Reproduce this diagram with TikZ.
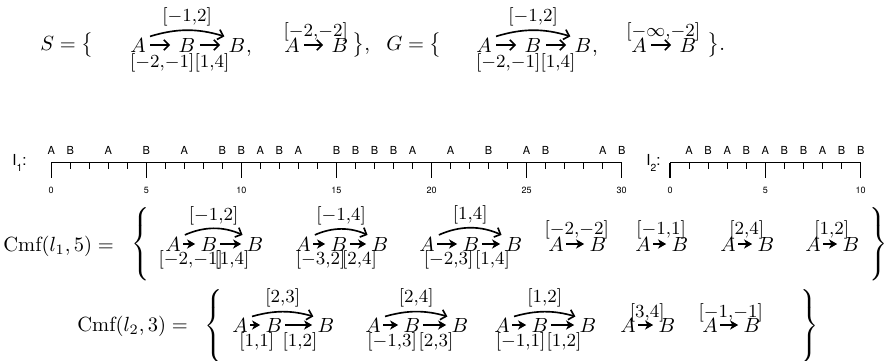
\documentclass[tikz,border=0pt]{standalone}
\usepackage{fontspec}
\newfontfamily\hv{TeX Gyre Heros}
\usetikzlibrary{arrows.meta}
\tikzset{
  lt/.style={inner sep=0pt},
  lbl/.style={font=\small, inner sep=1pt, execute at begin node={\thinmuskip=0mu\relax}},
  txt/.style={anchor=base west, inner sep=0pt},
  brc/.style={inner sep=0pt},
  bigarr/.style={thick, -{Straight Barb[length=2.5pt,width=5pt]}, shorten <=2pt, shorten >=4pt},
  smarr/.style={line width=0.7pt, -{Stealth[length=4pt,width=4.5pt,inset=1.2pt]}, shorten <=1pt, shorten >=2.5pt},
  bow/.style={thick, -{Straight Barb[length=2.5pt,width=5pt]}, shorten <=2pt, shorten >=2pt},
  evt/.style={font={\hv\fontsize{5.4}{6}\selectfont}, inner sep=0pt},
  tck/.style={font={\hv\fontsize{4.4}{5}\selectfont}, inner sep=0pt},
  axis/.style={line width=0.6pt},
}
\begin{document}
\begin{tikzpicture}[x=0.4878pt, y=-0.4878pt]
  \useasboundingbox (0,0) rectangle (885,360);
  % S 与 G
  \node[txt] (sopen) at (40,50) {$S=\bigl\{$};
  \foreach \n/\xa/\xb/\xc/\t/\ba/\bb in {s1/138/187/237/{[-1,2]}/{[-2,-1]}/{[1,4]}, g1/484/533/583/{[-1,2]}/{[-2,-1]}/{[1,4]}}{
    \node[lt] (\n-a) at (\xa,45) {$A$};
    \node[lt] (\n-b) at (\xb,45) {$B$};
    \node[lt] (\n-c) at (\xc,45) {$B$};
    \node[txt] (\n-k) at (\n-c.base east) {,};
    \draw[bigarr] (\n-a) -- node[lbl,below=2.8pt] (\n-l) {$\ba$} (\n-b);
    \draw[bigarr] (\n-b) -- node[lbl,below=2.8pt] (\n-r) {$\bb$} (\n-c);
    \draw[bow] (\n-a.north east) to[bend left=17] node[lbl,above=0.6pt] (\n-t) {$\t$} (\n-c.north west);
  }
  \foreach \n/\xa/\xb/\t in {s2/292/340/{[-2,-2]}, g2/639/688/{[-\infty,-2]}}{
    \node[lt] (\n-a) at (\xa,45) {$A$};
    \node[lt] (\n-b) at (\xb,45) {$B$};
    \draw[bigarr] (\n-a) -- node[lbl,above=0.4pt] (\n-t) {$\t$} (\n-b);
  }
  \node[txt] (sclose) at (352,50) {$\bigr\}$,};
  \node[txt] (gopen) at (386,50) {$G=\bigl\{$};
  \node[txt] (gclose) at (707,50) {$\bigr\}$.};
  % 序列 l1
  \node[anchor=west, inner sep=0pt] (i1) at (12,163) {\hv\fontsize{7.4}{8}\selectfont I\raisebox{-3pt}{\fontsize{5}{5}\selectfont 1}:};
  \draw[axis] (51.2,162.5) -- (621.7,162.5);
  \foreach \i in {0,...,30} \draw[line width=0.4pt] ({51.2+19.017*\i},162.5) -- ++(0,6.5);
  \foreach \i in {0,5,...,30}{
    \draw[axis] ({51.2+19.017*\i},162.5) -- ++(0,15.2);
    \node[tck] (n1-\i) at ({51.2+19.017*\i},190) {\i};
  }
  \foreach \i/\c in {0/A,1/B,3/A,5/B,7/A,9/B,10/B,11/A,12/B,13/A,15/B,16/B,17/B,18/B,19/A,21/A,23/B,25/A,26/B,29/A,30/B}
    \node[evt] (e1-\i) at ({51.2+19.017*\i},150) {\c};
  % 序列 l2
  \node[anchor=west, inner sep=0pt] (i2) at (646,163) {\hv\fontsize{7.4}{8}\selectfont I\raisebox{-3pt}{\fontsize{5}{5}\selectfont 2}:};
  \draw[axis] (670,162.5) -- (860.7,162.5);
  \foreach \i in {0,...,10} \draw[line width=0.4pt] ({670+19.07*\i},162.5) -- ++(0,6.5);
  \foreach \i in {0,5,10}{
    \draw[axis] ({670+19.07*\i},162.5) -- ++(0,15.2);
    \node[tck] (n2-\i) at ({670+19.07*\i},190) {\i};
  }
  \foreach \i/\c in {1/A,2/B,3/A,4/B,5/A,6/B,7/B,8/A,9/B,10/B}
    \node[evt] (e2-\i) at ({670+19.07*\i},150) {\c};
  % Cmf(l1,5)
  \node[txt] (cmf1) at (3,251) {$\mathrm{Cmf}(l_1,5)=$};
  \node[brc] (lb1) at (142,244) {$\delimitershortfall=0pt\delimiterfactor=1000\left\{\vrule height 20pt depth 15pt width 0pt\right.$};
  \node[brc] (rb1) at (877,244) {$\delimitershortfall=0pt\delimiterfactor=1000\left.\vrule height 20pt depth 15pt width 0pt\right\}$};
  \foreach \n/\xa/\xb/\xc/\t/\ba/\bb in {c1/173/209/255/{[-1,2]}/{[-2,-1]}/{[1,4]}, c2/303/339/380/{[-1,4]}/{[-3,2]}/{[2,4]}, c3/427/471/514/{[1,4]}/{[-2,3]}/{[1,4]}}{
    \node[lt] (\n-a) at (\xa,244) {$A$};
    \node[lt] (\n-b) at (\xb,244) {$B$};
    \node[lt] (\n-c) at (\xc,244) {$B$};
    \draw[smarr] (\n-a) -- node[lbl,below=1.8pt] (\n-l) {$\ba$} (\n-b);
    \draw[smarr] (\n-b) -- node[lbl,below=1.8pt] (\n-r) {$\bb$} (\n-c);
    \draw[bow] (\n-a.north east) to[bend left=24] node[lbl,above=0.6pt] (\n-t) {$\t$} (\n-c.north west);
  }
  \foreach \n/\xa/\xb/\t in {c4/556/598/{[-2,-2]}, c5/643/680/{[-1,1]}, c6/728/766/{[2,4]}, c7/813/851/{[1,2]}}{
    \node[lt] (\n-a) at (\xa,244) {$A$};
    \node[lt] (\n-b) at (\xb,244) {$B$};
    \draw[smarr] (\n-a) -- node[lbl,above=0.8pt] (\n-t) {$\t$} (\n-b);
  }
  % Cmf(l2,3)
  \node[txt] (cmf2) at (77,331) {$\mathrm{Cmf}(l_2,3)=$};
  \node[brc] (lb2) at (215,326) {$\delimitershortfall=0pt\delimiterfactor=1000\left\{\vrule height 20pt depth 15pt width 0pt\right.$};
  \node[brc] (rb2) at (808,326) {$\delimitershortfall=0pt\delimiterfactor=1000\left.\vrule height 20pt depth 15pt width 0pt\right\}$};
  \foreach \n/\xa/\xb/\xc/\t/\ba/\bb in {d1/240/274/326/{[2,3]}/{[1,1]}/{[1,2]}, d2/373/412/460/{[2,4]}/{[-1,3]}/{[2,3]}, d3/502/540/588/{[1,2]}/{[-1,1]}/{[1,2]}}{
    \node[lt] (\n-a) at (\xa,325) {$A$};
    \node[lt] (\n-b) at (\xb,325) {$B$};
    \node[lt] (\n-c) at (\xc,325) {$B$};
    \draw[smarr] (\n-a) -- node[lbl,below=2.3pt] (\n-l) {$\ba$} (\n-b);
    \draw[smarr] (\n-b) -- node[lbl,below=2.3pt] (\n-r) {$\bb$} (\n-c);
    \draw[bow] (\n-a.north east) to[bend left=16] node[lbl,above=1pt] (\n-t) {$\t$} (\n-c.north west);
  }
  \foreach \n/\xa/\xb/\t in {d4/628/667/{[3,4]}, d5/710/752/{[-1,-1]}}{
    \node[lt] (\n-a) at (\xa,325) {$A$};
    \node[lt] (\n-b) at (\xb,325) {$B$};
    \draw[smarr] (\n-a) -- node[lbl,above=0pt] (\n-t) {$\t$} (\n-b);
  }
\end{tikzpicture}
\end{document}
